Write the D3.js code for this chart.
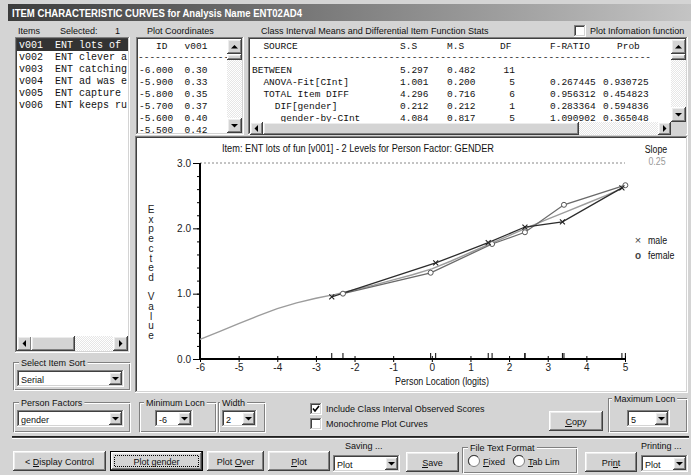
<!DOCTYPE html>
<html>
<head>
<meta charset="utf-8">
<script src="https://cdn.jsdelivr.net/npm/d3@7"></script>
<style>
body{margin:0;background:#d4d4d4;overflow:hidden}
text{font-family:"Liberation Sans",Arial,sans-serif;font-size:9.5px;fill:#111}
.mono{font-family:"Liberation Mono","Courier New",monospace;font-size:9.5px;white-space:pre}
.crisp{shape-rendering:crispEdges}
</style>
</head>
<body>
<script>
// ---- data ----
var itemIds = ["v001","v002","v003","v004","v005","v006"];
var itemText = ["ENT lots of fun","ENT clever ad","ENT catching","ENT ad was entertaining","ENT capture 'attention'","ENT keeps running"];

var coordLocn = ["-6.000","-5.900","-5.800","-5.700","-5.600","-5.500"];
var coordValue = ["0.30","0.33","0.35","0.37","0.40","0.42"];

var statSource = ["BETWEEN","  ANOVA-Fit[CInt]","  TOTAL Item DIFF","    DIF[gender]","     gender-by-CInt"];
var statSS = ["5.297","1.001","4.296","0.212","4.084"];
var statMS = ["0.482","0.200","0.716","0.212","0.817"];
var statDF = ["11","5","6","1","5"];
var statF = ["","0.267445","0.956312","0.283364","1.090902"];
var statProb = ["","0.930725","0.454823","0.594836","0.365048"];

// expected value curve (ICC)
var curveLocn = [-6,-5.5,-5,-4.5,-4,-3.5,-3,-2.5,-2,-1.5,-1,-0.5,0,0.5,1,1.5,2,2.5,3,3.5,4,4.5,5];
var curveValue = [0.30,0.42,0.54,0.66,0.77,0.86,0.93,0.99,1.06,1.13,1.21,1.29,1.38,1.50,1.63,1.76,1.89,2.02,2.14,2.26,2.38,2.50,2.63];

// class interval observed means
var maleLocn = [-2.59,0.10,1.46,2.41,3.38,4.92];
var maleValue = [0.95,1.47,1.78,2.02,2.10,2.62];
var femaleLocn = [-2.30,-0.03,1.56,2.41,3.42,5.01];
var femaleValue = [1.00,1.32,1.76,1.94,2.36,2.66];

var yTickLabels = [0,1,2,3];
var xTickLabels = [-6,-5,-4,-3,-2,-1,0,1,2,3,4,5];
var yTitle = "Expected Value";

var W = 691, H = 475, BG = "#d4d4d4";
var SQ = 0.95;   // ms sans serif is a bit narrower than arial

var svg = d3.select("body").append("svg").attr("width",W).attr("height",H);
var defs = svg.append("defs");

var pat = defs.append("pattern").attr("id","dither").attr("width",2).attr("height",2)
  .attr("patternUnits","userSpaceOnUse");
pat.append("rect").attr("width",2).attr("height",2).attr("fill","#e6e6e6");
pat.append("rect").attr("width",1).attr("height",1).attr("fill","#fff");
pat.append("rect").attr("x",1).attr("y",1).attr("width",1).attr("height",1).attr("fill","#fff");

var grad = defs.append("linearGradient").attr("id","tbar");
grad.append("stop").attr("offset","0%").attr("stop-color","#3c3c3c");
grad.append("stop").attr("offset","100%").attr("stop-color","#c4c4c4");

svg.append("rect").attr("width",W).attr("height",H).attr("fill",BG);

// ---- helpers for the windows look ----
function hl(g,x1,x2,y,c){
  g.append("line").attr("class","crisp").attr("x1",x1).attr("x2",x2)
   .attr("y1",y+0.5).attr("y2",y+0.5).attr("stroke",c);
}
function vl(g,x,y1,y2,c){
  g.append("line").attr("class","crisp").attr("x1",x+0.5).attr("x2",x+0.5)
   .attr("y1",y1).attr("y2",y2).attr("stroke",c);
}
function edge(g,x,y,w,h,tl,br){
  hl(g,x,x+w,y,tl); vl(g,x,y,y+h,tl);
  hl(g,x,x+w,y+h-1,br); vl(g,x+w-1,y,y+h,br);
}
function sunken(g,x,y,w,h,fill){
  g.append("rect").attr("x",x).attr("y",y).attr("width",w).attr("height",h).attr("fill",fill||"#fff");
  edge(g,x,y,w,h,"#808080","#fff");
  edge(g,x+1,y+1,w-2,h-2,"#404040",BG);
}
function raised(g,x,y,w,h){
  g.append("rect").attr("x",x).attr("y",y).attr("width",w).attr("height",h).attr("fill",BG);
  edge(g,x,y,w,h,"#fff","#404040");
  edge(g,x+1,y+1,w-2,h-2,"#ececec","#808080");
}
function arrow(g,cx,cy,dir){
  var p;
  if(dir=="down") p=[[cx-3.5,cy-1.5],[cx+3.5,cy-1.5],[cx,cy+2]];
  if(dir=="up") p=[[cx-3.5,cy+2],[cx+3.5,cy+2],[cx,cy-1.5]];
  if(dir=="left") p=[[cx+1.5,cy-3.5],[cx+1.5,cy+3.5],[cx-2,cy]];
  if(dir=="right") p=[[cx-1.5,cy-3.5],[cx-1.5,cy+3.5],[cx+2,cy]];
  g.append("path").attr("d","M"+p.join("L")+"Z").attr("fill","#000");
}
function squeeze(t,f){
  var L = t.node().getComputedTextLength();
  t.attr("textLength",L*(f||SQ)).attr("lengthAdjust","spacingAndGlyphs");
  return t;
}
// text with an optional underlined accelerator letter (drawn as a line)
function label(g,x,y,str,ul,anchor){
  var t = g.append("text").attr("x",x).attr("y",y).attr("text-anchor",anchor||"start").text(str);
  squeeze(t);
  if(ul!=null){
    var r = t.node().getExtentOfChar(ul);
    g.append("line").attr("class","crisp").attr("x1",r.x).attr("x2",r.x+r.width)
      .attr("y1",y+1.5).attr("y2",y+1.5).attr("stroke","#111");
  }
  return t;
}
function button(g,x,y,w,h,str,ul,focus){
  if(focus){
    g.append("rect").attr("class","crisp").attr("x",x+0.5).attr("y",y+0.5).attr("width",w-1).attr("height",h-1)
     .attr("fill","none").attr("stroke","#000");
    raised(g,x+1,y+1,w-2,h-2);
    g.append("rect").attr("class","crisp").attr("x",x+4.5).attr("y",y+4.5).attr("width",w-9).attr("height",h-9)
     .attr("fill","none").attr("stroke","#000").attr("stroke-dasharray","1,1");
  } else raised(g,x,y,w,h);
  label(g,x+w/2,y+h/2+4,str,ul,"middle");
}
function combo(g,x,y,w,h,str){
  sunken(g,x,y,w,h,"#fff");
  label(g,x+4,y+h/2+4,str);
  raised(g,x+w-h+2,y+2,h-4,h-4);
  arrow(g,x+w-h/2,y+h/2,"down");
}
function group(g,x,y,w,h,str,lx){
  edge(g,x,y,w,h,"#808080","#808080");
  edge(g,x+1,y+1,w,h,"#fff","#fff");
  if(str){
    var t = label(g,lx||x+8,y+4,str);
    var bb = t.node().getBBox();
    g.insert("rect","text:last-of-type").attr("x",bb.x-2).attr("y",y-2).attr("width",bb.width+4).attr("height",5).attr("fill",BG);
  }
}
function vscroll(g,x,y,w,h,ty,th){
  g.append("rect").attr("x",x).attr("y",y).attr("width",w).attr("height",h).attr("fill","url(#dither)");
  raised(g,x,y,w,w); arrow(g,x+w/2,y+w/2,"up");
  raised(g,x,y+h-w,w,w); arrow(g,x+w/2,y+h-w/2,"down");
  raised(g,x,ty,w,th);
}
function hscroll(g,x,y,w,h,tx,tw){
  g.append("rect").attr("x",x).attr("y",y).attr("width",w).attr("height",h).attr("fill","url(#dither)");
  raised(g,x,y,h,h); arrow(g,x+h/2,y+h/2,"left");
  raised(g,x+w-h,y,h,h); arrow(g,x+w-h/2,y+h/2,"right");
  raised(g,tx,y,tw,h);
}
function checkbox(g,x,y,checked){
  sunken(g,x,y,12,12,"#fff");
  if(checked) g.append("path").attr("d","M"+(x+3)+","+(y+5.5)+"l2,2.5l4,-5")
    .attr("fill","none").attr("stroke","#000").attr("stroke-width",1.6);
}
function radio(g,cx,cy){
  g.append("circle").attr("cx",cx).attr("cy",cy).attr("r",5.5).attr("fill","#fff").attr("stroke","#808080");
  g.append("path").attr("d","M"+(cx+4)+","+(cy-4)+"A5.5,5.5 0 0 0 "+(cx-4)+","+(cy+4)).attr("fill","none").attr("stroke","#404040");
}

var ui = svg.append("g");

// ---- title bar ----
ui.append("rect").attr("x",8).attr("y",4).attr("width",W-8).attr("height",17).attr("fill","url(#tbar)");
ui.append("text").attr("x",12).attr("y",17).attr("font-weight","bold").style("font-size","11.5px")
  .style("fill","#fff").attr("textLength",290).attr("lengthAdjust","spacingAndGlyphs")
  .text("ITEM CHARACTERISTIC CURVES for Analysis Name ENT02AD4");

// ---- header labels ----
var hdr = ui.append("g");
label(hdr,18,34,"Items");
label(hdr,60,34,"Selected:");
label(hdr,115,34,"1");
label(hdr,147,34,"Plot Coordinates");
label(hdr,261,34,"Class Interval Means and Differential Item Function Stats");
checkbox(hdr,574,25,false);
label(hdr,590,34,"Plot Infomation function");

// ---- item list ----
var items = ui.append("g");
sunken(items,15,37,115,316,"#fff");
defs.append("clipPath").attr("id","clipItems").append("rect").attr("x",17).attr("y",39).attr("width",111).attr("height",296);
var itemRows = items.append("g").attr("clip-path","url(#clipItems)");
itemRows.append("rect").attr("x",17).attr("y",39).attr("width",111).attr("height",12).attr("fill","#333");
// only the characters that fit the list box are drawn; the rest is clipped
itemRows.selectAll("text.row").data(itemIds).join("text")
  .attr("class","row mono").attr("x",19).attr("y",(d,i)=>48+i*12)
  .style("font-size","10px").style("fill",(d,i)=>i==0?"#fff":"#111")
  .text((d,i)=>(d+"  "+itemText[i]).slice(0,18));
hscroll(items,17,336,111,15,31,44);

// ---- plot coordinate list ----
var pc = ui.append("g");
sunken(pc,136,37,108,98,"#fff");
pc.append("text").attr("class","mono").attr("x",139).attr("y",49).text("   ID   v001");
pc.append("text").attr("class","mono").attr("x",138).attr("y",60).text("----------------");
pc.selectAll("text.loc").data(coordLocn).join("text").attr("class","loc mono")
  .attr("x",139).attr("y",(d,i)=>73+i*12).text((d,i)=>d+"  "+coordValue[i]);
vscroll(pc,227,39,15,94,54,6);

// ---- stats list ----
var st = ui.append("g");
sunken(st,248,37,440,98,"#fff");
defs.append("clipPath").attr("id","clipStats").append("rect").attr("x",250).attr("y",39).attr("width",420).attr("height",83);
var sr = st.append("g").attr("clip-path","url(#clipStats)");
sr.append("text").attr("class","mono").attr("x",252).attr("y",49).text("  SOURCE");
[["S.S",400],["M.S",447],["DF",500],["F-RATIO",550],["Prob",617]].forEach(function(h){
  sr.append("text").attr("class","mono").attr("x",h[1]).attr("y",49).text(h[0]);
});
sr.append("text").attr("class","mono").attr("x",252).attr("y",60).text(d3.range(70).map(()=>"-").join(""));
var cols = [[statSS,400,"start"],[statMS,447,"start"],[statDF,515,"end"],[statF,550,"start"],[statProb,603,"start"]];
statSource.forEach(function(s,i){
  var yy = 73+i*12;
  sr.append("text").attr("class","mono").attr("x",252).attr("y",yy).text(s);
  cols.forEach(function(c){
    sr.append("text").attr("class","mono").attr("x",c[1]).attr("y",yy).attr("text-anchor",c[2]).text(c[0][i]);
  });
});
vscroll(st,671,39,15,83,54,6);
hscroll(st,250,122,421,13,263,316);
st.append("rect").attr("x",671).attr("y",122).attr("width",15).attr("height",13).attr("fill",BG);

// ---- chart panel ----
var panel = ui.append("g");
sunken(panel,135,136,553,257,"#fff");

var chart = svg.append("g");
var x = d3.scaleLinear().domain([-6,5]).range([200,625]);
var y = d3.scaleLinear().domain([0,3]).range([359,163]);

chart.append("text").attr("x",358).attr("y",152).attr("text-anchor","middle").style("font-size","10px")
  .attr("textLength",272).attr("lengthAdjust","spacingAndGlyphs")
  .text("Item: ENT lots of fun [v001] - 2 Levels for Person Factor: GENDER");
squeeze(chart.append("text").attr("x",656).attr("y",153).attr("text-anchor","middle").style("font-size","10px").text("Slope"),0.88);
squeeze(chart.append("text").attr("x",657).attr("y",165).attr("text-anchor","middle").style("font-size","10px").style("fill","#999").text("0.25"),0.88);

// dashed max line
chart.append("line").attr("x1",x(-6)).attr("x2",x(5)).attr("y1",y(3)).attr("y2",y(3))
  .attr("stroke","#888").attr("stroke-dasharray","2,2");

// minor y ticks
chart.append("g").attr("transform","translate("+x(-6)+",0)")
  .call(d3.axisLeft(y).ticks(15).tickSize(3).tickFormat(""))
  .call(g=>g.select(".domain").remove())
  .selectAll("line").attr("stroke","#000");
// major y axis
var ya = chart.append("g").attr("transform","translate("+x(-6)+",0)")
  .call(d3.axisLeft(y).tickValues(yTickLabels).tickSize(7).tickPadding(2).tickFormat(d3.format(".1f")));
ya.select(".domain").attr("stroke-width",2).attr("d","M0,"+y(0)+"V"+y(3));
ya.selectAll("text").style("font-size","10px").style("font-family","Liberation Sans, Arial").style("fill","#222");

// x axis
var xa = chart.append("g").attr("transform","translate(0,"+y(0)+")")
  .call(d3.axisBottom(x).tickValues(xTickLabels).tickSize(3).tickPadding(2).tickFormat(d=>String(d)));
xa.select(".domain").attr("stroke-width",2).attr("d","M"+x(-6)+",0H"+x(5));
xa.selectAll(".tick line").attr("y1",-3);
xa.selectAll("text").style("font-size","10px").style("font-family","Liberation Sans, Arial").style("fill","#222");

// rug of class interval means
chart.append("g").selectAll("line").data(maleLocn.concat(femaleLocn)).join("line")
  .attr("x1",d=>x(d)).attr("x2",d=>x(d)).attr("y1",y(0)-6).attr("y2",y(0))
  .attr("stroke","#000");

chart.append("text").attr("x",442).attr("y",385).attr("text-anchor","middle").style("font-size","10px")
  .attr("textLength",94).attr("lengthAdjust","spacingAndGlyphs")
  .text("Person Location (logits)");

// vertical y title
chart.append("g").selectAll("text").data(yTitle.split("")).join("text")
  .attr("x",151).attr("y",(d,i)=>213+i*9.7).attr("text-anchor","middle").style("font-size","10px")
  .style("fill","#222").text(d=>d);

// ICC
var line = d3.line().x(d=>x(d[0])).y(d=>y(d[1]));
chart.append("path").datum(curveLocn.map((d,i)=>[d,curveValue[i]]))
  .attr("d",line).attr("fill","none").attr("stroke","#9c9c9c").attr("stroke-width",1.4);

var female = femaleLocn.map((d,i)=>[d,femaleValue[i]]);
var male = maleLocn.map((d,i)=>[d,maleValue[i]]);
chart.append("path").datum(female).attr("d",line).attr("fill","none").attr("stroke","#6a6a6a").attr("stroke-width",1.3);
chart.append("path").datum(male).attr("d",line).attr("fill","none").attr("stroke","#2c2c2c").attr("stroke-width",1.3);

chart.append("g").selectAll("circle").data(female).join("circle")
  .attr("cx",d=>x(d[0])).attr("cy",d=>y(d[1])).attr("r",2.5)
  .attr("fill","#fff").attr("stroke","#555").attr("stroke-width",1);
chart.append("g").selectAll("path").data(male).join("path")
  .attr("d",d=>{var a=x(d[0]),b=y(d[1]);return "M"+(a-2.5)+","+(b-2.5)+"L"+(a+2.5)+","+(b+2.5)+"M"+(a-2.5)+","+(b+2.5)+"L"+(a+2.5)+","+(b-2.5);})
  .attr("stroke","#222").attr("stroke-width",1.1);

// legend
chart.append("text").attr("x",638).attr("y",244).attr("text-anchor","middle").style("font-size","11px").style("fill","#444").text("\u00d7");
squeeze(chart.append("text").attr("x",648).attr("y",244).style("font-size","10px").text("male"),0.88);
chart.append("text").attr("x",638).attr("y",259).attr("text-anchor","middle").style("font-size","10px").attr("font-weight","bold").style("fill","#444").text("o");
squeeze(chart.append("text").attr("x",648).attr("y",259).style("font-size","10px").text("female"),0.88);

// ---- left sort control ----
var lc = ui.append("g");
group(lc,13,362,117,28,"Select Item Sort",21);
combo(lc,17,370,107,17,"Serial");

// ---- lower controls ----
var bc = ui.append("g");
group(bc,13,402,117,30,"Person Factors",21);
combo(bc,17,410,107,17,"gender");
group(bc,139,402,77,30,"Minimum Locn",146);
combo(bc,155,410,38,17,"-6");
group(bc,218,402,47,30,"Width",222);
combo(bc,222,410,35,17,"2");

checkbox(bc,310,403,true);
label(bc,326,412,"Include Class Interval Observed Scores");
checkbox(bc,310,418,false);
label(bc,326,427,"Monochrome Plot Curves");

button(bc,549,411,54,20,"Copy",0);
group(bc,608,398,79,34,"Maximum Locn",614);
combo(bc,627,410,43,17,"5");

// separator
hl(bc,12,689,436,"#202020");
hl(bc,12,689,437,"#404040");
hl(bc,12,689,438,"#fff");

button(bc,13,451,93,20,"< Display Control",2);
button(bc,110,451,93,20,"Plot gender",null,true);
button(bc,207,451,57,20,"Plot Over",5);
button(bc,268,451,62,20,"Plot",0);
label(bc,345,449,"Saving ...");
combo(bc,333,455,67,17,"Plot");
button(bc,406,452,53,20,"Save",0);
group(bc,462,447,115,26,"File Text Format",470);
radio(bc,474,461); label(bc,483,465,"Fixed",0);
radio(bc,519,461); label(bc,528,465,"Tab Lim",0);
button(bc,585,452,52,20,"Print",3);
label(bc,641,449,"Printing ...");
combo(bc,641,455,47,17,"Plot");
</script>
</body>
</html>
